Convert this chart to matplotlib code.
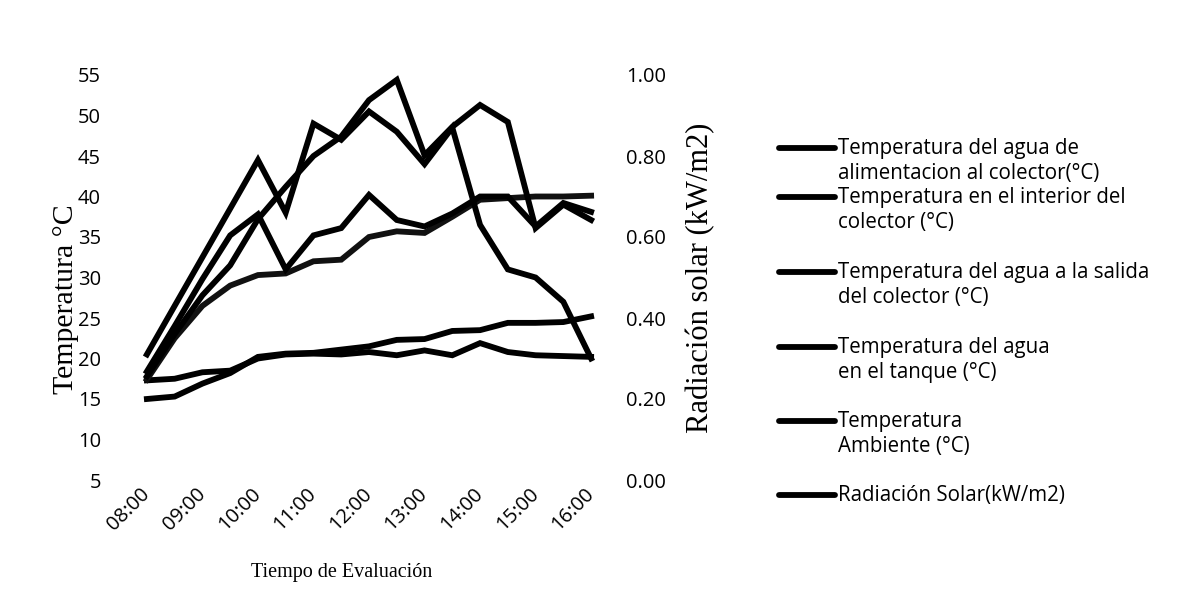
import matplotlib
matplotlib.use("Agg")
import matplotlib.pyplot as plt
import matplotlib.transforms as mtransforms
from matplotlib.lines import Line2D
from matplotlib.ticker import FormatStrFormatter

# ---------------- data ----------------
times = ["08:00", "08:30", "09:00", "09:30", "10:00", "10:30", "11:00", "11:30",
         "12:00", "12:30", "13:00", "13:30", "14:00", "14:30", "15:00", "15:30", "16:00"]
hour_labels = ["08:00", "09:00", "10:00", "11:00", "12:00", "13:00", "14:00", "15:00", "16:00"]

temp_alimentacion = [15.0, 15.3, 16.9, 18.2, 20.2, 20.6, 20.7, 21.1, 21.5, 22.3, 22.4,
                     23.4, 23.5, 24.4, 24.4, 24.5, 25.2]
temp_interior = [17.8, 23.0, 27.8, 31.5, 37.2, 41.2, 45.0, 47.4, 51.9, 54.4, 45.1,
                 48.6, 51.3, 49.2, 36.1, 39.0, 37.1]
temp_salida = [18.4, 24.0, 29.8, 35.2, 37.8, 31.0, 35.2, 36.1, 40.2, 37.1, 36.3,
               37.9, 40.0, 40.0, 36.3, 39.2, 38.1]
temp_tanque = [17.4, 22.5, 26.5, 29.0, 30.3, 30.5, 32.0, 32.2, 35.0, 35.7, 35.5,
               37.5, 39.6, 39.8, 40.0, 40.0, 40.1]
temp_ambiente = [17.3, 17.5, 18.3, 18.5, 20.0, 20.5, 20.6, 20.5, 20.8, 20.4, 21.0,
                 20.4, 21.9, 20.8, 20.4, 20.3, 20.2]
radiacion = [0.31, 0.43, 0.55, 0.67, 0.79, 0.66, 0.88, 0.84, 0.91, 0.86, 0.78,
             0.87, 0.63, 0.52, 0.50, 0.44, 0.30]

labels = ["Temperatura del agua de\nalimentacion al colector(°C)",
          "Temperatura en el interior del\ncolector (°C)",
          "Temperatura del agua a la salida\ndel colector (°C)",
          "Temperatura del agua\nen el tanque (°C)",
          "Temperatura\nAmbiente (°C)",
          "Radiación Solar(kW/m2)"]

# ---------------- figure ----------------
W, H = 1183, 593
fig = plt.figure(figsize=(W / 100, H / 100), dpi=100)
fig.patch.set_facecolor("white")

def fx(px):
    return px / W

def fy(py):
    return 1 - py / H

ax = fig.add_axes([fx(133), fy(480), fx(605) - fx(133), fy(75) - fy(480)])
ax2 = ax.twinx()

sans = ["Open Sans", "DejaVu Sans"]
serif = ["Liberation Serif", "DejaVu Serif"]
LW = 4.2
col = "#000000"

x = list(range(len(times)))
ax.plot(x, temp_alimentacion, color=col, lw=LW, solid_joinstyle="miter")
ax.plot(x, temp_ambiente, color=col, lw=LW, solid_joinstyle="miter")
ax.plot(x, temp_tanque, color="#111111", lw=LW, solid_joinstyle="miter")
ax.plot(x, temp_salida, color=col, lw=LW, solid_joinstyle="miter")
ax.plot(x, temp_interior, color=col, lw=LW, solid_joinstyle="miter")
ax2.plot(x, radiacion, color=col, lw=LW, solid_joinstyle="miter")

ax.set_xlim(-0.5, len(times) - 0.5)
ax.set_ylim(5, 55)
ax2.set_ylim(0, 1.0)
ax.set_yticks(range(5, 56, 5))
ax2.set_yticks([0.0, 0.2, 0.4, 0.6, 0.8, 1.0])
ax2.yaxis.set_major_formatter(FormatStrFormatter("%.2f"))

ax.set_xticks(range(0, len(times), 2))
ax.set_xticklabels(hour_labels, rotation=45, ha="right", va="center",
                   rotation_mode="anchor", family=sans, fontsize=14.5)
shift = mtransforms.ScaledTranslation(-5 / 100, 0, fig.dpi_scale_trans)
for t in ax.get_xticklabels():
    t.set_transform(t.get_transform() + shift)

for a in (ax, ax2):
    for s in a.spines.values():
        s.set_visible(False)
    a.patch.set_visible(False)

ax.tick_params(axis="x", length=0, pad=8)
ax.tick_params(axis="y", length=0, pad=23, labelsize=14.5)
ax2.tick_params(axis="y", length=0, pad=15, labelsize=14.5)
for t in ax.get_yticklabels() + ax2.get_yticklabels():
    t.set_family(sans)

# axis titles
fig.text(fx(66), fy(299), "Temperatura °C", rotation=90, ha="center", va="center",
         family=serif, fontsize=21.5)
fig.text(fx(701), fy(278), "Radiación solar (kW/m2)", rotation=90, ha="center",
         va="center", family=serif, fontsize=22)
fig.text(fx(342), fy(573), "Tiempo de Evaluación", ha="center", va="center",
         family=serif, fontsize=14.5)

# legend (drawn manually to match layout)
leg_y = [148, 197, 272, 347, 421, 495]
for yy, lab in zip(leg_y, labels):
    fig.add_artist(Line2D([fx(779), fx(835)], [fy(yy), fy(yy)], color=col, lw=LW,
                          solid_capstyle="round", transform=fig.transFigure))
    fig.text(fx(838), fy(yy - 10), lab, ha="left", va="top", family=sans,
             fontsize=14.8, linespacing=1.22)

fig.savefig("out.png", dpi=100, facecolor="white")
